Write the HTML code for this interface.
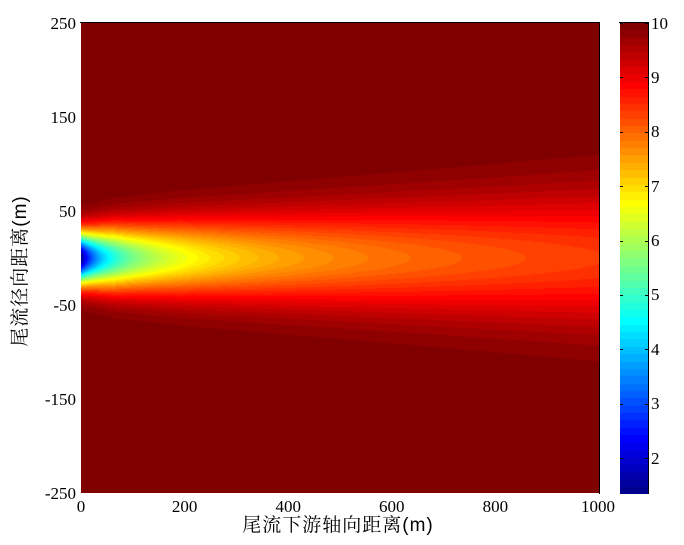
<!DOCTYPE html>
<html><head><meta charset="utf-8">
<style>
html,body{margin:0;padding:0;background:#fff;}
body{width:684px;height:545px;position:relative;overflow:hidden;font-family:"Liberation Serif","Noto Serif CJK SC",serif;}
.t{position:absolute;font-size:17px;line-height:17px;color:#000;white-space:nowrap;}
.yl{right:608px;text-align:right;}
.xl{transform:translateX(-50%);}
#plot{position:absolute;left:81px;top:23px;width:518px;height:470px;background:#800000;}
#cb{position:absolute;left:620px;top:23px;width:28px;height:471px;background:#800000;}
.ln{position:absolute;background:#000;}
</style></head><body>
<canvas id="plot" width="518" height="470"></canvas>
<canvas id="cb" width="28" height="471"></canvas>
<div class="ln" style="left:80px;top:22px;width:520px;height:1px;"></div>
<div class="ln" style="left:599px;top:22px;width:1px;height:472px;"></div>
<div class="ln" style="left:619px;top:22px;width:30px;height:1px;"></div>
<div class="ln" style="left:648px;top:22px;width:1px;height:472px;"></div>

<div class="t yl" style="top:15px;">250</div>
<div class="t yl" style="top:109px;">150</div>
<div class="t yl" style="top:203px;">50</div>
<div class="t yl" style="top:297px;">-50</div>
<div class="t yl" style="top:391px;">-150</div>
<div class="t yl" style="top:485px;">-250</div>

<div class="t xl" style="left:81px;top:498px;">0</div>
<div class="t xl" style="left:184.6px;top:498px;">200</div>
<div class="t xl" style="left:288.2px;top:498px;">400</div>
<div class="t xl" style="left:391.8px;top:498px;">600</div>
<div class="t xl" style="left:495.4px;top:498px;">800</div>
<div class="t xl" style="left:598px;top:498px;">1000</div>

<div id="cbl"></div>

<div class="t" style="left:338px;top:516px;transform:translateX(-50%);font-size:19px;line-height:20px;font-family:'Liberation Sans','Noto Serif CJK SC',sans-serif;letter-spacing:1px;">尾流下游轴向距离(m)</div>
<div class="t" style="left:21px;top:271px;transform:translate(-50%,-50%) rotate(-90deg);font-size:19px;line-height:20px;font-family:'Liberation Sans','Noto Serif CJK SC',sans-serif;letter-spacing:1px;">尾流径向距离(m)</div>

<script>
(function(){
function u(k){ if(k<1||k>47) return 0; if(k<=16) return k/16; if(k<=31) return 1; return (48-k)/16; }
function jet(i){
  var r=(i>=25)?u(i-24):0, g=(i>=9&&i<=55)?u(i-8):0, b=(i<=39)?u(i+8):0;
  return [Math.round(r*255),Math.round(g*255),Math.round(b*255)];
}
var cols=[]; for(var i=1;i<=64;i++) cols.push(jet(i));
var cmin=1.36,cmax=10;
var sp=[[0,19.4],[64,23.7],[193,28.3],[386,33.4],[579,38.3],[772,43.2],[1000,49.3]];
function sig(x){
  for(var k=0;k<sp.length-1;k++){
    if(x<=sp[k+1][0]){var a=sp[k],b=sp[k+1];return a[1]+(b[1]-a[1])*(x-a[0])/(b[0]-a[0]);}
  }
  return sp[sp.length-1][1];
}
function idx(v){ var n=Math.floor((v-cmin)/(cmax-cmin)*64)+1; if(n<1)n=1; if(n>64)n=64; return n-1; }
var cv=document.getElementById('plot'), ctx=cv.getContext('2d');
var W=518,H=470, img=ctx.createImageData(W,H), d=img.data;
for(var px=0;px<W;px++){
  var x=(px+0.5)/W*1000;
  var D=8.64/Math.sqrt(1+x/37), s=sig(x);
  for(var py=0;py<H;py++){
    var y=250-(py+0.5)/H*500;
    var v=10-D*Math.exp(-y*y/(2*s*s));
    var c=cols[idx(v)], o=(py*W+px)*4;
    d[o]=c[0];d[o+1]=c[1];d[o+2]=c[2];d[o+3]=255;
  }
}
ctx.putImageData(img,0,0);
var cb=document.getElementById('cb'), c2=cb.getContext('2d');
var CH=471;
for(var py=0;py<CH;py++){
  var v=cmax-(py+0.5)/CH*(cmax-cmin);
  var c=cols[idx(v)];
  c2.fillStyle='rgb('+c[0]+','+c[1]+','+c[2]+')';
  c2.fillRect(0,py,28,1);
}
var cbl=document.getElementById('cbl'), h='';
for(var t=2;t<=10;t++){
  var yy=23+(cmax-t)/(cmax-cmin)*470;
  h+='<div class="ln" style="left:620px;top:'+(Math.round(yy))+'px;width:3px;height:1px;"></div>';
  h+='<div class="ln" style="left:645px;top:'+(Math.round(yy))+'px;width:3px;height:1px;"></div>';
  h+='<div class="t" style="left:651px;top:'+(yy-8.5)+'px;">'+t+'</div>';
}
cbl.innerHTML=h;
})();
</script>
</body></html>
